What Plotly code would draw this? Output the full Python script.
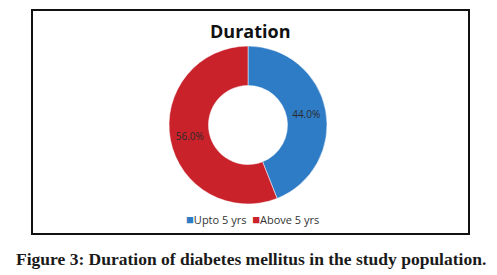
import plotly.graph_objects as go

categories = ["Upto 5 yrs", "Above 5 yrs"]
values = [44.0, 56.0]
colors = ["#2f7cc6", "#c9222b"]

W, H = 497, 275
OFF = 8  # page body margin offset

def px(x):
    return (x - OFF) / W

def py(y):
    return 1 - (y - OFF) / H

fig = go.Figure(go.Pie(
    labels=categories,
    values=values,
    hole=0.5,
    sort=False,
    direction="clockwise",
    rotation=0,
    marker=dict(colors=colors, line=dict(color="#ffffff", width=0.5)),
    texttemplate="%{percent:.1%}",
    textposition="inside",
    insidetextorientation="horizontal",
    textfont=dict(family="Open Sans, Arial, sans-serif", size=10, color="#2a2a2a"),
    domain=dict(x=[px(169), px(327)], y=[py(204), py(46)]),
    hoverinfo="label+percent",
    showlegend=False,
))

legend_text = "  ".join(
    f"<span style='color:{c};font-size:13px'>■</span>{lab}" for lab, c in zip(categories, colors)
)

fig.update_layout(
    width=W, height=H,
    margin=dict(l=0, r=0, t=0, b=0),
    paper_bgcolor="white",
    plot_bgcolor="white",
    showlegend=False,
    shapes=[dict(
        type="rect", xref="paper", yref="paper",
        x0=px(32), x1=px(469), y0=py(234), y1=py(10),
        line=dict(color="#111111", width=2),
        fillcolor="rgba(0,0,0,0)",
    )],
    annotations=[
        dict(text="<b>Duration</b>", x=px(250), y=py(31), xref="paper", yref="paper",
             showarrow=False, xanchor="center", yanchor="middle",
             font=dict(family="Open Sans, Arial, sans-serif", size=18, color="#111111")),
        dict(text=legend_text, x=px(252), y=py(219), xref="paper", yref="paper",
             showarrow=False, xanchor="center", yanchor="middle",
             font=dict(family="Open Sans, Arial, sans-serif", size=11, color="#333333")),
        dict(text="<b>Figure 3: Duration of diabetes mellitus in the study population.</b>",
             x=px(251), y=py(259), xref="paper", yref="paper",
             showarrow=False, xanchor="center", yanchor="middle",
             font=dict(family="Liberation Serif, DejaVu Serif, serif", size=17.5, color="#1a1a1a")),
    ],
)

fig.write_html("out.html")
